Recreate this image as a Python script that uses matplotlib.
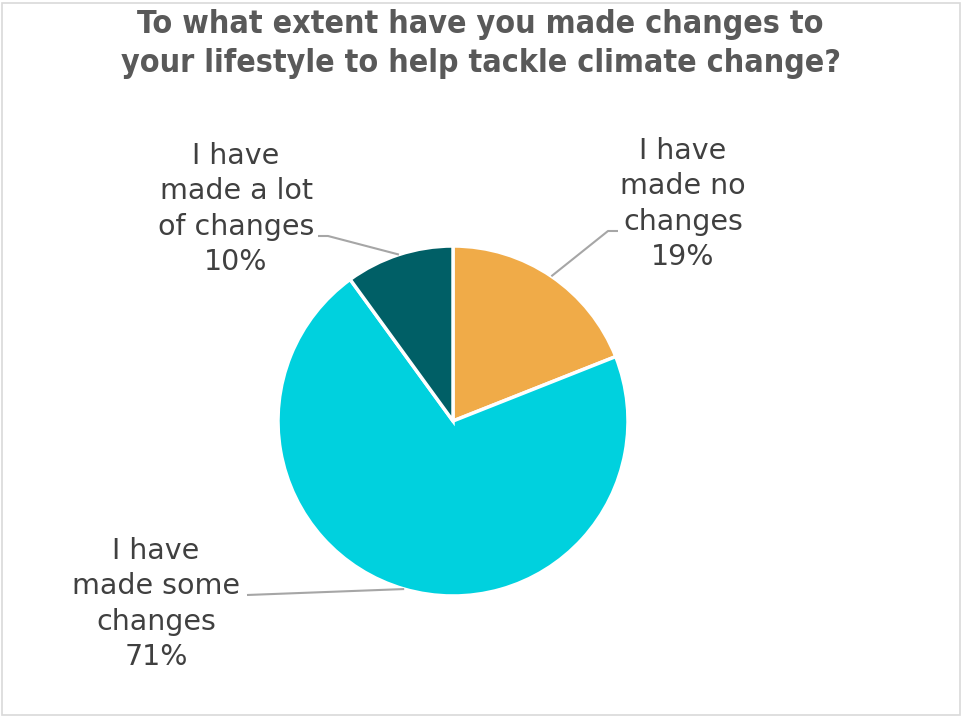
import numpy as np
import matplotlib
matplotlib.use('Agg')
import matplotlib.pyplot as plt
from matplotlib.patches import Rectangle

# chart data
title = 'To what extent have you made changes to\nyour lifestyle to help tackle climate change?'
labels = ['I have\nmade no\nchanges', 'I have\nmade some\nchanges', 'I have\nmade a lot\nof changes']
values = [19, 71, 10]
colors = ['#F0AB48', '#00D1DE', '#005F66']

W, H = 963, 717
fig = plt.figure(figsize=(W / 100, H / 100), dpi=100)
fig.patch.set_facecolor('white')
# light grey border round the chart area
fig.patches.append(Rectangle((2 / W, 2 / H), 958 / W, 712 / H, transform=fig.transFigure,
                             fill=False, edgecolor='#D9D9D9', linewidth=1.2))

# axes in pixel units, y pointing up
ax = fig.add_axes([0, 0, 1, 1])
ax.set_xlim(0, W)
ax.set_ylim(0, H)
ax.set_aspect('equal')
ax.axis('off')

cx, cy, r = 453, H - 421, 175
wedges, _ = ax.pie(values, colors=colors, startangle=90, counterclock=False,
                   center=(cx, cy), radius=r, frame=True,
                   wedgeprops=dict(edgecolor='white', linewidth=2.5))
ax.set_xlim(0, W)
ax.set_ylim(0, H)
ax.axis('off')

ax.text(W / 2 - 1, H - 44, title, ha='center', va='center', fontsize=23, fontweight='bold',
        color='#595959', linespacing=1.36, fontstretch='condensed')

# label positions (text centre) and leader elbow points, in pixel coords (y down)
text_pos = [(683, 204), (156, 604), (236, 209)]
elbows = [[(608, 231), (618, 231)], [(247, 595)], [(328, 236), (318, 236)]]

for w, lab, v, tp, elb in zip(wedges, labels, values, text_pos, elbows):
    mid = np.deg2rad((w.theta1 + w.theta2) / 2)
    x0 = cx + r * np.cos(mid)
    y0 = cy + r * np.sin(mid)
    xs = [x0] + [p[0] for p in elb]
    ys = [y0] + [H - p[1] for p in elb]
    ax.plot(xs, ys, color='#A6A6A6', linewidth=1.5, solid_capstyle='butt')
    ax.text(tp[0], H - tp[1], f'{lab}\n{v}%', ha='center', va='center', fontsize=20.5,
            color='#404040', linespacing=1.33)

fig.savefig('out.png', dpi=100)
